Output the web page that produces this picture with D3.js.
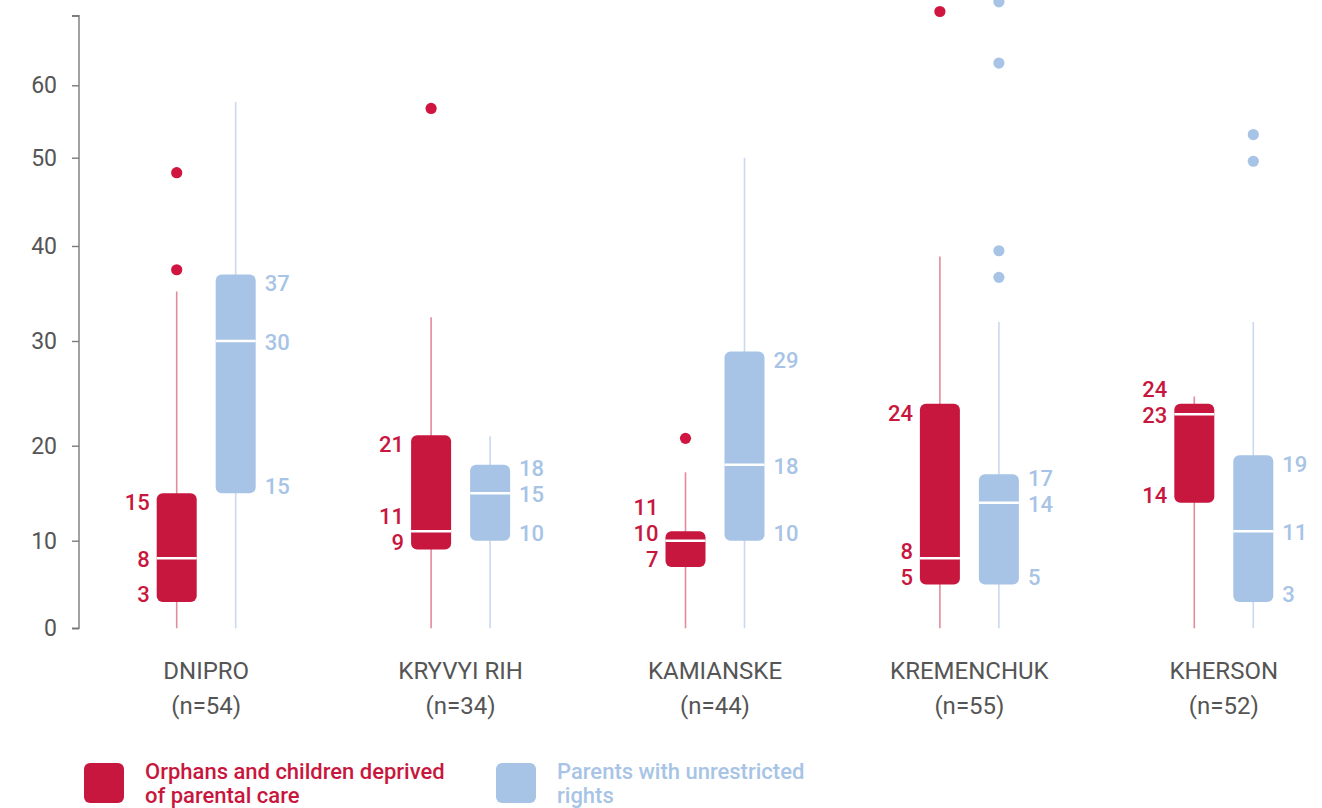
<!DOCTYPE html>
<html>
<head>
<meta charset="utf-8">
<script src="https://cdn.jsdelivr.net/npm/d3@7"></script>
<style>
  html, body { margin: 0; padding: 0; background: #fff; }
  svg { display: block; font-family: Roboto, "Open Sans", sans-serif; }
</style>
</head>
<body>
<svg id="chart" width="1322" height="808"></svg>
<script>
// ---- data ----
const cities = ["DNIPRO", "KRYVYI RIH", "KAMIANSKE", "KREMENCHUK", "KHERSON"];
const sampleSizes = [54, 34, 44, 55, 52];
const groupKeys = ["orphans", "parents"];
const groupNames = [
  ["Orphans and children deprived", "of parental care"],
  ["Parents with unrestricted", "rights"]
];

// orphans and children deprived of parental care
const orphanQ1 = [3, 9, 7, 5, 14];
const orphanMedian = [8, 11, 10, 8, 23];
const orphanQ3 = [15, 21, 11, 24, 24];
const orphanWhiskerLow = [0, 0, 0, 0, 0];
const orphanWhiskerHigh = [35.2, 32.5, 17.2, 38.9, 24.7];
const orphanOutliers = [[37.5, 48.3], [56.8], [20.7], [70.6], []];

// parents with unrestricted rights
const parentQ1 = [15, 10, 10, 5, 3];
const parentMedian = [30, 15, 18, 14, 11];
const parentQ3 = [37, 18, 29, 17, 19];
const parentWhiskerLow = [0, 0, 0, 0, 0];
const parentWhiskerHigh = [57.7, 20.9, 50, 32, 32];
const parentOutliers = [[], [], [], [36.7, 39.5, 63.2, 72], [49.6, 53.2]];

const yTicks = [0, 10, 20, 30, 40, 50, 60, 70];

// ---- styling ----
const colors = {
  orphans: { box: "#c8173e", whisker: "#e48b99", dot: "#cf1540", text: "#c8173e" },
  parents: { box: "#a7c4e6", whisker: "#c9d9f0", dot: "#a7c4e6", text: "#a7c4e6" }
};
const axisGrey = "#7a7a7a";
const textGrey = "#555555";
const fontFamily = "Roboto, 'Open Sans', sans-serif";

// ---- layout ----
const svg = d3.select("#chart");
const axisX = 79;
// the value axis is drawn with uneven spacing between its gridline stops
const yStops = [628.3, 540.7, 445.7, 341, 246, 157.7, 85.3, 15.7];
const y = d3.scaleLinear().domain(yTicks).range(yStops);

const x = d3.scaleBand().domain(cities).range([axisX, 1351]).padding(0);
const xSub = d3.scaleBand().domain(groupKeys).range([-59, 59]).padding(0);
const boxW = 40;

// build per-box records
const series = {
  orphans: cities.map((c, i) => ({
    city: c, q1: orphanQ1[i], med: orphanMedian[i], q3: orphanQ3[i],
    lo: orphanWhiskerLow[i], hi: orphanWhiskerHigh[i], out: orphanOutliers[i]
  })),
  parents: cities.map((c, i) => ({
    city: c, q1: parentQ1[i], med: parentMedian[i], q3: parentQ3[i],
    lo: parentWhiskerLow[i], hi: parentWhiskerHigh[i], out: parentOutliers[i]
  }))
};

// ---- y axis ----
const yAxis = d3.axisLeft(y)
  .tickValues(yTicks)
  .tickSize(7)
  .tickPadding(15)
  .tickFormat(d => d === 70 ? "" : d);
const gAxis = svg.append("g").attr("transform", `translate(${axisX},0)`).call(yAxis);
gAxis.select(".domain").attr("stroke", axisGrey).attr("stroke-width", 1.4)
  .attr("d", `M-7,${y(70)}H0V${y(0)}H-7`);
gAxis.selectAll(".tick line").attr("stroke", axisGrey).attr("stroke-width", 1.4);
gAxis.selectAll(".tick text")
  .attr("fill", textGrey)
  .style("font-size", "23px")
  .style("font-family", fontFamily);

// ---- boxes ----
groupKeys.forEach(key => {
  const col = colors[key];
  const g = svg.append("g").attr("class", "series-" + key);
  const items = g.selectAll("g.box").data(series[key]).join("g")
    .attr("class", "box")
    .attr("transform", d => `translate(${x(d.city) + x.bandwidth() / 2 + xSub(key) + xSub.bandwidth() / 2},0)`);

  // whisker
  items.append("line")
    .attr("x1", 0).attr("x2", 0)
    .attr("y1", d => y(d.lo)).attr("y2", d => y(d.hi))
    .attr("stroke", col.whisker).attr("stroke-width", 1.6);

  // interquartile box
  items.append("rect")
    .attr("x", -boxW / 2).attr("width", boxW)
    .attr("y", d => y(d.q3)).attr("height", d => y(d.q1) - y(d.q3))
    .attr("rx", 6).attr("ry", 6)
    .attr("fill", col.box);

  // median
  items.append("line")
    .attr("x1", -boxW / 2).attr("x2", boxW / 2)
    .attr("y1", d => y(d.med)).attr("y2", d => y(d.med))
    .attr("stroke", "#fff").attr("stroke-width", 2.4);

  // outliers
  items.selectAll("circle").data(d => d.out).join("circle")
    .attr("cx", 0).attr("cy", v => y(v)).attr("r", 5.6)
    .attr("fill", col.dot);

  // value labels (q3, median, q1), kept apart when close together
  const gap = 26;
  items.each(function (d) {
    let yb = y(d.q1) - 7.5;
    let ym = Math.min(y(d.med) + 1, yb - gap);
    let yt = Math.min(y(d.q3) + 9, ym - gap);
    const isLeft = key === "orphans";
    const lx = isLeft ? -boxW / 2 - 7 : boxW / 2 + 9;
    const labels = [[d.q3, yt], [d.med, ym], [d.q1, yb]];
    d3.select(this).selectAll("text.val").data(labels).join("text")
      .attr("class", "val")
      .attr("x", lx).attr("y", l => l[1])
      .attr("dy", "0.36em")
      .attr("text-anchor", isLeft ? "end" : "start")
      .attr("fill", col.text)
      .style("font-size", "22px")
      .style("font-weight", 500)
      .text(l => l[0]);
  });
});

// ---- category labels ----
const gCat = svg.append("g");
cities.forEach((c, i) => {
  const cx = x(c) + x.bandwidth() / 2;
  gCat.append("text")
    .attr("x", cx).attr("y", 679)
    .attr("text-anchor", "middle")
    .attr("fill", textGrey)
    .style("font-size", "24px")
    .style("font-weight", 400)
    .text(c);
  gCat.append("text")
    .attr("x", cx).attr("y", 714)
    .attr("text-anchor", "middle")
    .attr("fill", textGrey)
    .style("font-size", "24px")
    .text(`(n=${sampleSizes[i]})`);
});

// ---- legend ----
const legend = svg.append("g");
const legendX = [84, 496];
groupKeys.forEach((key, i) => {
  const lg = legend.append("g").attr("transform", `translate(${legendX[i]},763)`);
  lg.append("rect").attr("width", 40).attr("height", 40).attr("rx", 6)
    .attr("fill", colors[key].box);
  groupNames[i].forEach((line, j) => {
    lg.append("text")
      .attr("x", 61).attr("y", 16 + j * 24)
      .attr("fill", colors[key].text)
      .style("font-size", "22px")
      .style("font-weight", 500)
      .text(line);
  });
});
</script>
</body>
</html>
